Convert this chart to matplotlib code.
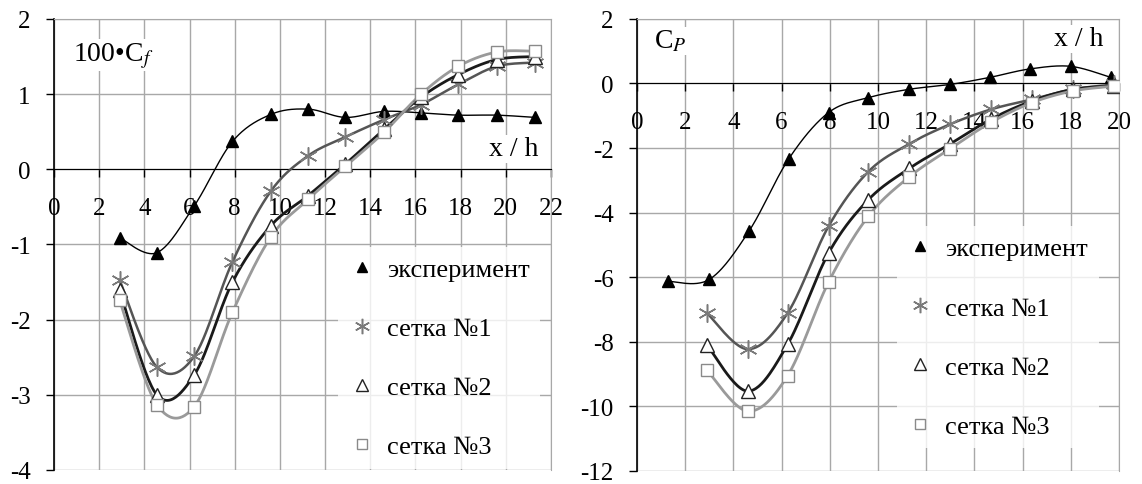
import numpy as np
import matplotlib
matplotlib.use("Agg")
import matplotlib.pyplot as plt
from matplotlib.lines import Line2D
from matplotlib.ticker import FuncFormatter

plt.rcParams['font.family'] = ['Liberation Serif', 'DejaVu Serif']
plt.rcParams['mathtext.fontset'] = 'stix'

# --- данные: левый график (100*Cf) ---
cf_x = [2.9, 4.55, 6.2, 7.9, 9.6, 11.25, 12.9, 14.6, 16.25, 17.9, 19.6, 21.3]
cf_exp = [-0.91, -1.11, -0.49, 0.37, 0.73, 0.80, 0.69, 0.77, 0.75, 0.72, 0.72, 0.69]
cf_g1 = [-1.47, -2.63, -2.49, -1.23, -0.29, 0.18, 0.43, 0.66, 0.86, 1.13, 1.37, 1.42]
cf_g2 = [-1.61, -3.00, -2.74, -1.50, -0.75, -0.35, 0.07, 0.53, 0.96, 1.26, 1.46, 1.50]
cf_g3 = [-1.74, -3.13, -3.16, -1.90, -0.90, -0.40, 0.04, 0.49, 1.00, 1.37, 1.56, 1.57]

# --- данные: правый график (Cp) ---
cp_x_exp = [1.3, 3.0, 4.65, 6.3, 7.95, 9.6, 11.3, 13.0, 14.65, 16.3, 18.0, 19.65]
cp_exp = [-6.13, -6.07, -4.57, -2.33, -0.90, -0.44, -0.18, -0.03, 0.19, 0.45, 0.53, 0.19]
cp_x = [2.9, 4.6, 6.25, 7.95, 9.6, 11.3, 13.0, 14.7, 16.4, 18.1, 19.8]
cp_g1 = [-7.11, -8.23, -7.11, -4.42, -2.73, -1.87, -1.26, -0.80, -0.49, -0.18, -0.03]
cp_g2 = [-8.10, -9.53, -8.08, -5.25, -3.60, -2.63, -1.87, -1.10, -0.54, -0.18, -0.08]
cp_g3 = [-8.88, -10.15, -9.05, -6.15, -4.11, -2.89, -2.02, -1.20, -0.59, -0.23, -0.08]

labels = ['эксперимент', 'сетка №1', 'сетка №2', 'сетка №3']


def smooth(x, y, n=30):
    # сглаженная линия как в Excel (кривые Безье через точки)
    p = np.column_stack([x, y]).astype(float)
    p = np.vstack([p[0], p, p[-1]])
    out = []
    t = np.linspace(0, 1, n)[:, None]
    for i in range(1, len(p) - 2):
        p0, p1, p2, p3 = p[i - 1], p[i], p[i + 1], p[i + 2]
        b1 = p1 + (p2 - p0) / 6
        b2 = p2 - (p3 - p1) / 6
        seg = ((1 - t) ** 3) * p1 + 3 * ((1 - t) ** 2) * t * b1 + 3 * (1 - t) * t ** 2 * b2 + t ** 3 * p2
        out.append(seg)
    out = np.vstack(out)
    return out[:, 0], out[:, 1]


styles = [
    dict(lc='black', lw=1.0, marker='^', ms=8, mfc='black', mec='black', mew=1),
    dict(lc='#555555', lw=1.8, marker=(6, 2, 0), ms=13, mfc='none', mec='#7a7a7a', mew=1.1),
    dict(lc='#1a1a1a', lw=2.0, marker='^', ms=10, mfc='white', mec='#222222', mew=1),
    dict(lc='#9a9a9a', lw=2.0, marker='s', ms=8.5, mfc='white', mec='#8a8a8a', mew=1),
]


def draw(ax, series):
    for (x, y), st in zip(series, styles):
        sx, sy = smooth(x, y)
        ax.plot(sx, sy, color=st['lc'], lw=st['lw'], zorder=3)
        ax.plot(x, y, ls='none', marker=st['marker'], ms=st['ms'], mfc=st['mfc'],
                mec=st['mec'], mew=st['mew'], zorder=4)


def style_axes(ax, xmax, ymin, ymax, ystep):
    ax.set_xlim(0, xmax)
    ax.set_ylim(ymin, ymax)
    ax.set_xticks(np.arange(0, xmax + 1, 2))
    ax.set_yticks(np.arange(ymin, ymax + 0.1, ystep))
    ax.grid(True, color='#a8a8a8', lw=1.0, zorder=0)
    ax.spines['bottom'].set_position(('data', 0))
    ax.spines['bottom'].set_color('black')
    ax.spines['left'].set_color('black')
    ax.spines['left'].set_linewidth(1.2)
    ax.spines['top'].set_color('#a8a8a8')
    ax.spines['right'].set_color('#a8a8a8')
    ax.tick_params(axis='x', direction='out', length=6, width=1, pad=14, labelsize=18)
    ax.tick_params(axis='y', direction='out', length=6, width=1, pad=11, labelsize=18)
    ax.yaxis.set_major_formatter(FuncFormatter(lambda v, p: '%d' % v))
    ax.xaxis.set_major_formatter(FuncFormatter(lambda v, p: '%d' % v))


def legend(ax, loc_xy):
    handles = [Line2D([], [], ls='none', marker=st['marker'], ms=st['ms'] * 0.85,
                      mfc=st['mfc'], mec=st['mec'], mew=st['mew']) for st in styles]
    lg = ax.legend(handles, labels, loc='upper left', bbox_to_anchor=loc_xy,
                   frameon=True, fontsize=19, labelspacing=1.35, handlelength=1.0,
                   handletextpad=0.45, borderpad=0.4, fancybox=False)
    lg.get_frame().set_facecolor('white')
    lg.get_frame().set_edgecolor('none')
    lg.set_zorder(5)


fig = plt.figure(figsize=(11.42, 4.85), dpi=100)
ax1 = fig.add_axes([0.0473, 0.0289, 0.4352, 0.930])
ax2 = fig.add_axes([0.5578, 0.027, 0.4221, 0.932])

style_axes(ax1, 22, -4, 2, 1)
draw(ax1, [(cf_x, cf_exp), (cf_x, cf_g1), (cf_x, cf_g2), (cf_x, cf_g3)])
ax1.text(0.038, 0.953, '100•C$_{f}$', transform=ax1.transAxes, fontsize=20,
         va='top', ha='left', bbox=dict(fc='white', ec='none', pad=1), zorder=6)
ax1.text(0.975, 0.712, 'x / h', transform=ax1.transAxes, fontsize=20,
         va='center', ha='right', bbox=dict(fc='white', ec='none', pad=1), zorder=6)
legend(ax1, (0.545, 0.524))

style_axes(ax2, 20, -12, 2, 2)
draw(ax2, [(cp_x_exp, cp_exp), (cp_x, cp_g1), (cp_x, cp_g2), (cp_x, cp_g3)])
ax2.text(0.035, 0.98, 'C$_{P}$', transform=ax2.transAxes, fontsize=20,
         va='top', ha='left', bbox=dict(fc='white', ec='none', pad=1), zorder=6)
ax2.text(0.967, 0.956, 'x / h', transform=ax2.transAxes, fontsize=20,
         va='center', ha='right', bbox=dict(fc='white', ec='none', pad=1), zorder=6)
legend(ax2, (0.511, 0.57))

fig.savefig('out.png', dpi=100)
